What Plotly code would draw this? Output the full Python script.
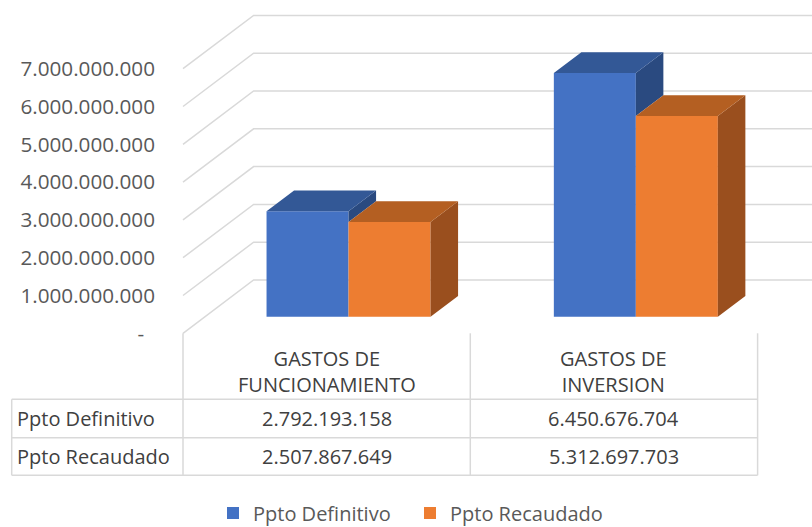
import plotly.graph_objects as go

# ---------------- data ----------------
categories = ["GASTOS DE<br>FUNCIONAMIENTO", "GASTOS DE<br>INVERSION"]
series_names = ["Ppto Definitivo", "Ppto Recaudado"]
ppto_definitivo = [2792193158, 6450676704]
ppto_recaudado = [2507867649, 5312697703]
y_tick_values = [0, 1e9, 2e9, 3e9, 4e9, 5e9, 6e9, 7e9]


def fmt(v):
    return f"{v:,.0f}".replace(",", ".")


y_tick_text = ["-\u00a0\u00a0" if v == 0 else fmt(v) for v in y_tick_values]

# ---------------- geometry ----------------
W, H = 812, 527
PX_PER_CAT = 287.3            # pixels per category step
PX_PER_VAL = 37.8 / 1e9       # pixels per value unit
FRONT_LEFT_PX = 183.0         # pixel x of category -0.5 on the front plane
ZERO_PX = 333.3               # pixel y of value 0 on the front plane
PLOT_LEFT_PX = 180.0
DEPTH_DX_PX = 70.6
DEPTH_DY_PX = 53.3

DXU = DEPTH_DX_PX / PX_PER_CAT       # depth offset in x units
DYV = DEPTH_DY_PX / PX_PER_VAL       # depth offset in y units
D0, D1 = 0.31, 0.70                  # bar depth span (fraction of wall depth)
BW = 82.0 / PX_PER_CAT               # bar width in category units

x_range = [-0.5 - (FRONT_LEFT_PX - PLOT_LEFT_PX) / PX_PER_CAT,
           -0.5 + (W - FRONT_LEFT_PX) / PX_PER_CAT]
y_range = [-(H - ZERO_PX) / PX_PER_VAL, ZERO_PX / PX_PER_VAL]
x_dom0 = PLOT_LEFT_PX / W


def xp(c):
    """category coordinate -> paper x"""
    return x_dom0 + (c - x_range[0]) / (x_range[1] - x_range[0]) * (1 - x_dom0)


def yp(py):
    return 1 - py / H


def pxp(px):
    return px / W


FONT = "Open Sans"
GRID = "#D9D9D9"
front_col = ["#4472C4", "#ED7D31"]
top_col = ["#335896", "#B45F22"]
side_col = ["#2A4A80", "#9A4F1E"]

series = [ppto_definitivo, ppto_recaudado]

fig = go.Figure()

# front faces as bars
for s, (name, vals) in enumerate(zip(series_names, series)):
    off = -BW if s == 0 else 0.0
    fig.add_trace(go.Bar(
        x=[0, 1], y=vals, base=D0 * DYV, width=BW, offset=off + D0 * DXU,
        name=name, marker=dict(color=front_col[s], line=dict(width=0)),
        hoverinfo="skip",
    ))

# 3D top and side faces
ddx = (D1 - D0) * DXU
ddy = (D1 - D0) * DYV
for s, vals in enumerate(series):
    off = -BW if s == 0 else 0.0
    sx, sy, tx, ty = [], [], [], []
    for i, v in enumerate(vals):
        xl = i + off + D0 * DXU
        xr = xl + BW
        yb = D0 * DYV
        yt = v + D0 * DYV
        lo = min(v, series[1][i]) if s == 0 else 0.0
        sx += [xr, xr + ddx, xr + ddx, xr, xr, None]
        sy += [lo + yb, lo + yb + ddy, yt + ddy, yt, lo + yb, None]
        tx += [xl, xr, xr + ddx, xl + ddx, xl, None]
        ty += [yt, yt, yt + ddy, yt + ddy, yt, None]
    fig.add_trace(go.Scatter(x=sx, y=sy, mode="none", fill="toself",
                             fillcolor=side_col[s], showlegend=False, hoverinfo="skip"))
    fig.add_trace(go.Scatter(x=tx, y=ty, mode="none", fill="toself",
                             fillcolor=top_col[s], showlegend=False, hoverinfo="skip"))

shapes = []
# side wall + back wall gridlines
for v in y_tick_values:
    path = (f"M {-0.5},{v} L {-0.5 + DXU},{v + DYV} L {x_range[1] + 0.5},{v + DYV}")
    shapes.append(dict(type="path", path=path, xref="x", yref="y", layer="below",
                       line=dict(color=GRID, width=1.5)))

# data table lines
row_top, row_mid, row_bot = 399.3, 437.7, 475.3
tbl_left = 11.7
for c in [-0.5, 0.5, 1.5]:
    shapes.append(dict(type="line", xref="paper", yref="paper",
                       x0=xp(c), x1=xp(c), y0=yp(ZERO_PX), y1=yp(row_bot),
                       line=dict(color=GRID, width=1.5)))
shapes.append(dict(type="line", xref="paper", yref="paper",
                   x0=pxp(tbl_left), x1=pxp(tbl_left), y0=yp(row_top), y1=yp(row_bot),
                   line=dict(color=GRID, width=1.5)))
for r in [row_top, row_mid, row_bot]:
    shapes.append(dict(type="line", xref="paper", yref="paper",
                       x0=pxp(tbl_left), x1=xp(1.5), y0=yp(r), y1=yp(r),
                       line=dict(color=GRID, width=1.5)))

annotations = []
TXT = "#404040"
for i, cat in enumerate(categories):
    annotations.append(dict(text=cat, x=xp(i), y=yp(371.5), xref="paper", yref="paper",
                            showarrow=False, xanchor="center", yanchor="middle",
                            font=dict(family=FONT, size=20, color=TXT)))
row_centers = [(row_top + row_mid) / 2, (row_mid + row_bot) / 2]
for s, (name, vals) in enumerate(zip(series_names, series)):
    annotations.append(dict(text=name, x=pxp(15), y=yp(row_centers[s]), xref="paper", yref="paper",
                            showarrow=False, xanchor="left", yanchor="middle",
                            font=dict(family=FONT, size=20, color=TXT)))
    for i, v in enumerate(vals):
        annotations.append(dict(text=fmt(v), x=xp(i), y=yp(row_centers[s]), xref="paper",
                                yref="paper", showarrow=False, xanchor="center",
                                yanchor="middle", font=dict(family=FONT, size=20, color=TXT)))

fig.update_layout(
    width=W, height=H,
    margin=dict(l=0, r=0, t=0, b=0, autoexpand=False),
    paper_bgcolor="white", plot_bgcolor="white",
    barmode="overlay",
    showlegend=True,
    legend=dict(orientation="h", x=pxp(213), xanchor="left", y=yp(513), yanchor="middle",
                font=dict(family=FONT, size=20, color="#595959"),
                entrywidth=152, entrywidthmode="pixels", bgcolor="rgba(0,0,0,0)"),
    xaxis=dict(domain=[x_dom0, 1], range=x_range, visible=False, fixedrange=True,
               automargin=False),
    yaxis=dict(domain=[0, 1], range=y_range, tickvals=y_tick_values, ticktext=y_tick_text,
               showgrid=False, zeroline=False, showline=False, ticks="",
               ticklabelstandoff=24, automargin=False,
               tickfont=dict(family=FONT, size=20.7, color="#595959"), fixedrange=True),
    shapes=shapes,
    annotations=annotations,
    font=dict(family=FONT),
)

fig.write_html("out.html", post_script="document.body.style.margin='0';document.body.style.overflow='hidden';",
               config={"displayModeBar": False})
